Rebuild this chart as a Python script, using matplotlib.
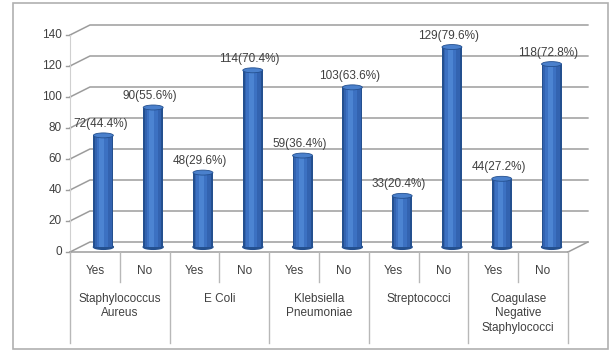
import matplotlib
matplotlib.use("Agg")
import matplotlib.pyplot as plt
from matplotlib.patches import Ellipse, Rectangle
import numpy as np

groups = ["Staphylococcus\nAureus", "E Coli", "Klebsiella\nPneumoniae",
          "Streptococci", "Coagulase\nNegative\nStaphylococci"]
subcats = ["Yes", "No"]
yes_vals = [72, 48, 59, 33, 44]
no_vals = [90, 114, 103, 129, 118]
yes_pct = [44.4, 29.6, 36.4, 20.4, 27.2]
no_pct = [55.6, 70.4, 63.6, 79.6, 72.8]
yticks = [0, 20, 40, 60, 80, 100, 120, 140]

plt.rcParams['font.family'] = ['Liberation Sans', 'DejaVu Sans']
fig = plt.figure(figsize=(6.13, 3.51), dpi=100)
ax = fig.add_axes([0, 0, 1, 1])
ax.set_xlim(-1.406, 10.904)
ax.set_ylim(-63.87, 162.58)
ax.axis('off')

txt = '#404040'
grid = '#9c9c9c'
dx, dy = 0.4, 6.45
ncell = 2 * len(groups)

# figure border
ax.add_patch(Rectangle((-1.145, -62.6), 11.95, 223.3, fill=False, ec='#b0b0b0', lw=1.2))

# gridlines on back wall + side wall
for v in yticks:
    ax.plot([0, dx, ncell + dx], [v, v + dy, v + dy], color=grid, lw=1.1, zorder=1)
    ax.plot([-0.08, 0], [v, v], color=grid, lw=1, zorder=1)
    ax.text(-0.16, v, str(v), ha='right', va='center', fontsize=8.5, color=txt)
# left axis vertical
ax.plot([0, 0], [0, yticks[-1]], color='#d0d0d0', lw=0.8, zorder=1)
# floor front edge and right edge
ax.plot([0, ncell], [0, 0], color=grid, lw=1.1, zorder=1)
ax.plot([ncell, ncell + dx], [0, dy], color=grid, lw=1.1, zorder=1)

# bars
vals, pcts = [], []
for y, n, yp, np_ in zip(yes_vals, no_vals, yes_pct, no_pct):
    vals += [y, n]
    pcts += [yp, np_]
xs = np.arange(ncell) + 0.5 + 0.17
base = dy / 2
w = 0.4
ax.bar(xs, vals, width=w, bottom=base, color='#24508f', zorder=3)
ax.bar(xs, vals, width=w * 0.82, bottom=base, color='#3363b0', zorder=4)
ax.bar(xs - 0.02, vals, width=w * 0.55, bottom=base, color='#3c71c2', zorder=5)
ax.bar(xs - 0.03, vals, width=w * 0.25, bottom=base, color='#4c84d2', zorder=6)
for x, v, p in zip(xs, vals, pcts):
    ax.add_patch(Ellipse((x, base), w, 3.0, color='#24508f', zorder=2.9))
    ax.add_patch(Ellipse((x, base + v), w, 3.2, fc='#4a80cc', ec='#24508f', lw=0.6, zorder=7))
    ax.text(x - 0.06, base + v + 3.5, f"{v}({p}%)", ha='center', va='bottom',
            fontsize=8.5, color=txt, zorder=8)

# category axis
bottom_line = -58.5
for i in range(ncell + 1):
    if i % 2 == 0:
        ax.plot([i, i], [0, bottom_line], color='#b8b8b8', lw=1, zorder=1)
    else:
        ax.plot([i, i], [0, -19.5], color='#b8b8b8', lw=1, zorder=1)
for i in range(ncell):
    ax.text(i + 0.5, -12, subcats[i % 2], ha='center', va='center', fontsize=8.5, color=txt)
for g, name in enumerate(groups):
    ax.text(2 * g + 1, -26.5, name, ha='center', va='top', fontsize=8.5, color=txt,
            linespacing=1.25)

fig.savefig("out.png", dpi=100)
